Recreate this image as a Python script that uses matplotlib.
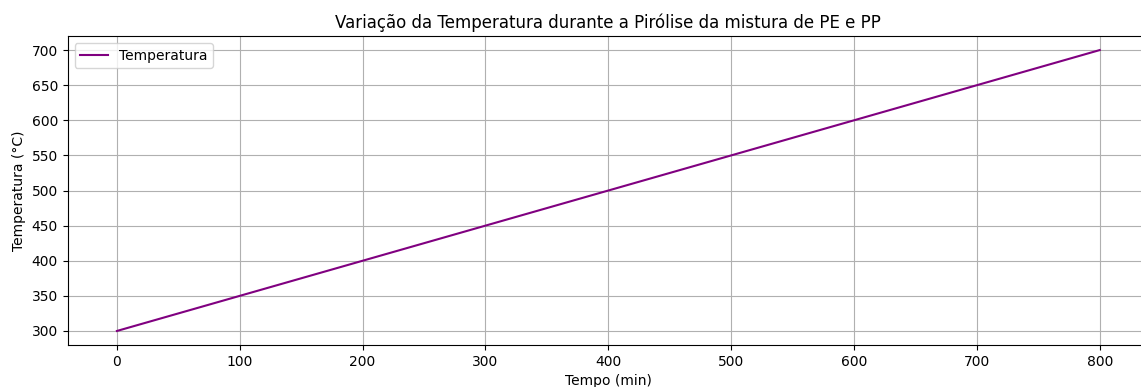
import matplotlib
matplotlib.use('Agg')
import matplotlib.pyplot as plt

# Temperature ramp during pyrolysis
tempo_min = [0, 800]
temperatura_c = [300, 700]

fig = plt.figure(figsize=(11.41, 3.87), dpi=100)
ax = fig.add_axes([0.0594, 0.1085, 0.9475, 0.7984])

ax.plot(tempo_min, temperatura_c, color='purple', linewidth=1.5, label='Temperatura')

ax.set_xlim(-40, 840)
ax.set_ylim(280, 720)
ax.set_xticks(range(0, 801, 100))
ax.set_yticks(range(300, 701, 50))

ax.set_title('Variação da Temperatura durante a Pirólise da mistura de PE e PP')
ax.set_xlabel('Tempo (min)')
ax.set_ylabel('Temperatura (°C)')
ax.grid(True)
ax.legend(loc='upper left')

fig.savefig('out.png', dpi=100)
